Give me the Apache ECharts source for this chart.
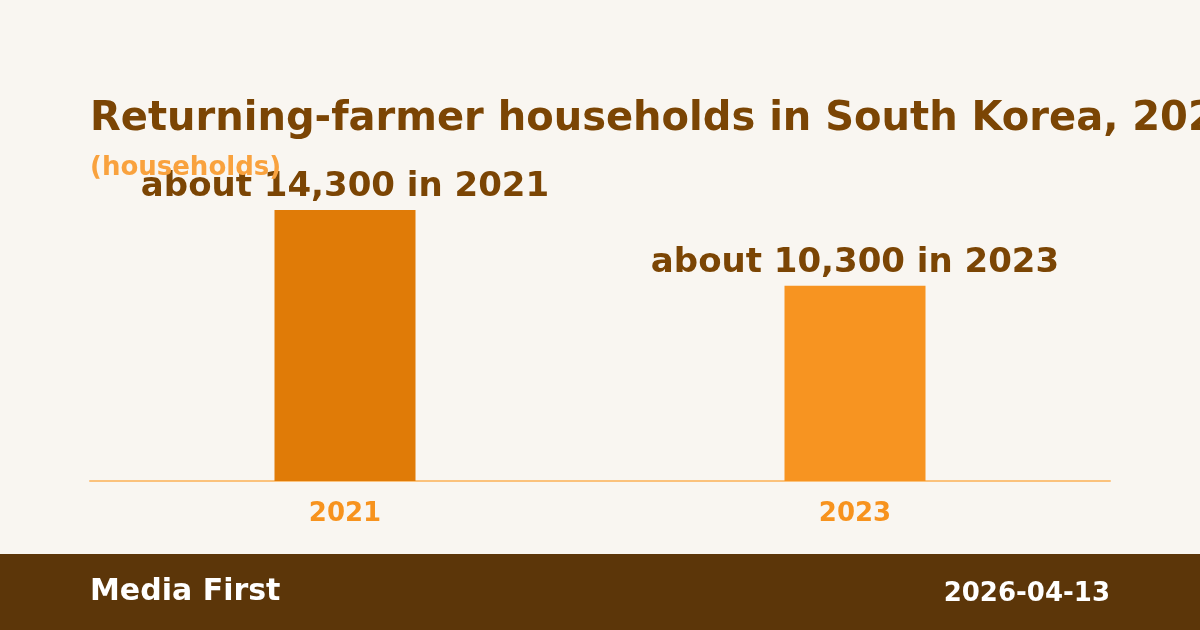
<!DOCTYPE html>
<html>
<head>
<meta charset="utf-8">
<title>Returning-farmer households</title>
<script src="https://cdn.jsdelivr.net/npm/echarts@6/dist/echarts.min.js"></script>
<style>
  html, body { margin: 0; padding: 0; background: #f9f6f1; }
  #main { width: 1200px; height: 630px; }
</style>
</head>
<body>
<div id="main"></div>
<script>
// data
var years = ['2021', '2023'];
var households = [14300, 10300];
var barColors = ['#e07b07', '#f79421'];
var barLabels = ['about 14,300 in 2021', 'about 10,300 in 2023'];

var font = 'DejaVu Sans';
var chart = echarts.init(document.getElementById('main'), null, { renderer: 'canvas' });

chart.setOption({
  backgroundColor: '#f9f6f1',
  animation: false,
  grid: { left: 90, right: 90, top: 210, bottom: 149, containLabel: false },
  xAxis: {
    type: 'category',
    data: years,
    axisLine: { show: true, lineStyle: { color: '#fbc27c', width: 2 } },
    axisTick: { show: false },
    axisLabel: {
      margin: 20,
      color: '#f7931e',
      fontFamily: font,
      fontWeight: 'bold',
      fontSize: 26
    }
  },
  yAxis: {
    type: 'value',
    min: 0,
    max: 'dataMax',
    show: false,
    splitLine: { show: false }
  },
  series: [{
    type: 'bar',
    barWidth: 141,
    data: households.map(function (v, i) {
      return { value: v, itemStyle: { color: barColors[i] } };
    }),
    label: {
      show: true,
      position: 'top',
      distance: 6,
      color: '#7b4504',
      fontFamily: font,
      fontWeight: 'bold',
      fontSize: 34,
      formatter: function (p) { return barLabels[p.dataIndex]; }
    }
  }],
  graphic: [
    {
      type: 'text', left: 90, top: 100, z: 10,
      style: {
        text: 'Returning-farmer households in South Korea, 2021\u20132023',
        fill: '#7b4504', font: 'bold 40px "DejaVu Sans"'
      }
    },
    {
      type: 'text', left: 90, top: 155, z: 5,
      style: { text: '(households)', fill: '#f9a23e', font: 'bold 26px "DejaVu Sans"' }
    },
    {
      type: 'rect', left: 0, top: 554, z: 0,
      shape: { width: 1200, height: 76 },
      style: { fill: '#5c3609' }
    },
    {
      type: 'text', left: 90, top: 577, z: 10,
      style: { text: 'Media First', fill: '#ffffff', font: 'bold 30px "DejaVu Sans"' }
    },
    {
      type: 'text', right: 90, top: 581, z: 10,
      style: { text: '2026-04-13', fill: '#ffffff', font: 'bold 26px "DejaVu Sans"' }
    }
  ]
});
</script>
</body>
</html>
